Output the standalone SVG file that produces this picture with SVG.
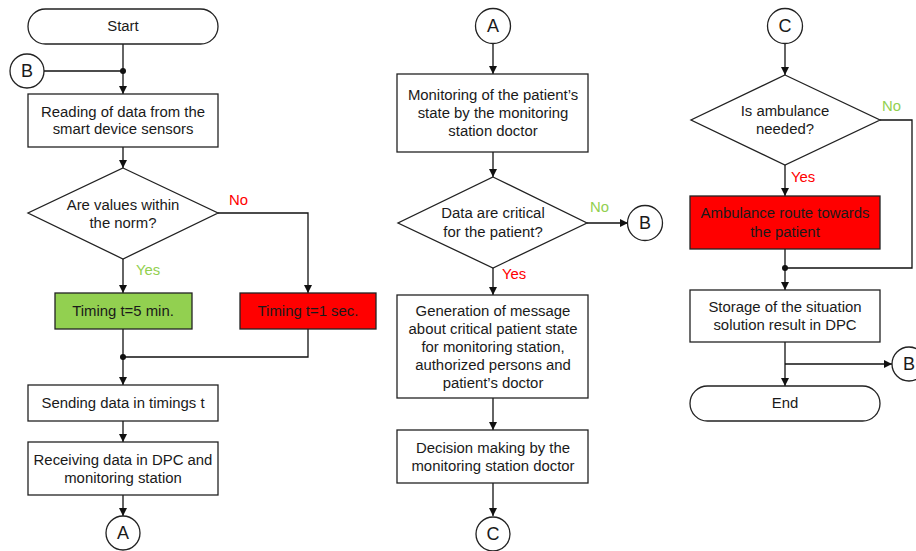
<svg xmlns="http://www.w3.org/2000/svg" width="916" height="551" viewBox="0 0 916 551">
<defs>
<marker id="arr" viewBox="0 0 10 10" refX="10" refY="5" markerWidth="8" markerHeight="8" markerUnits="userSpaceOnUse" orient="auto">
<path d="M0,0 L10,5 L0,10 z" fill="#111"/>
</marker>
<style>
.n{fill:#fff;stroke:#222;stroke-width:1.3}
.g{fill:#92d050;stroke:#222;stroke-width:1.3}
.r{fill:#ff0000;stroke:#222;stroke-width:1.3}
.c{fill:none;stroke:#111;stroke-width:1.3}
.a{marker-end:url(#arr)}
text{font-family:"Liberation Sans",Arial,sans-serif;font-size:14.9px;fill:#1a1a1a;text-anchor:middle}
.lg{fill:#92d050;text-anchor:start}
.lr{fill:#ff0000;text-anchor:start}
.cl{font-size:18px}
</style>
</defs>
<rect width="916" height="551" fill="#fff"/>
<g id="connectors">
<path class="c a" d="M123,44 V94"/>
<path class="c" d="M44,71 H123"/>
<circle cx="123" cy="71" r="3" fill="#111"/>
<path class="c a" d="M123,147 V168"/>
<path class="c a" d="M123,259 V293"/>
<path class="c a" d="M218,213 H308 V293"/>
<path class="c" d="M123,329 V357"/>
<path class="c" d="M308,329 V357 H123"/>
<circle cx="123" cy="357" r="3" fill="#111"/>
<path class="c a" d="M123,357 V385"/>
<path class="c a" d="M123,421 V442"/>
<path class="c a" d="M123,495 V516"/>
<path class="c a" d="M493,44 V74"/>
<path class="c a" d="M493,152 V177"/>
<path class="c a" d="M587,223 H628"/>
<path class="c a" d="M493,268 V295"/>
<path class="c a" d="M493,398 V430"/>
<path class="c a" d="M493,483 V516"/>
<path class="c a" d="M785,44 V75"/>
<path class="c a" d="M785,165 V196"/>
<path class="c" d="M880,120 H912 V268 H785"/>
<path class="c" d="M785,249 V268"/>
<circle cx="785" cy="268" r="3" fill="#111"/>
<path class="c a" d="M785,268 V290"/>
<path class="c a" d="M785,342 V386"/>
<path class="c a" d="M785,364 H892"/>
<text class="lr" x="229" y="205">No</text>
<text class="lg" x="136" y="275">Yes</text>
<text class="lg" x="590" y="212">No</text>
<text class="lr" x="502" y="279">Yes</text>
<text class="lg" x="882" y="111">No</text>
<text class="lr" x="791" y="182">Yes</text>
</g>
<g id="start"><rect class="n" x="28" y="9" width="190" height="35" rx="17.5"/><text x="123" y="31">Start</text></g>
<g id="connB1"><circle class="n" cx="27" cy="71" r="17"/><text class="cl" x="27" y="77">B</text></g>
<g id="read"><rect class="n" x="28" y="94" width="190" height="53"/><text x="123" y="117">Reading of data from the</text><text x="123" y="134">smart device sensors</text></g>
<g id="norm"><polygon class="n" points="123,168 218,213 123,259 28,213"/><text x="123" y="210">Are values within</text><text x="123" y="228">the norm?</text></g>
<g id="t5"><rect class="g" x="55" y="293" width="137" height="36"/><text x="123" y="316">Timing t=5 min.</text></g>
<g id="t1"><rect class="r" x="240" y="293" width="136" height="36"/><text x="308" y="316">Timing t=1 sec.</text></g>
<g id="send"><rect class="n" x="28" y="385" width="190" height="36"/><text x="123" y="408">Sending data in timings t</text></g>
<g id="recv"><rect class="n" x="28" y="442" width="190" height="53"/><text x="123" y="465">Receiving data in DPC and</text><text x="123" y="483">monitoring station</text></g>
<g id="connA1"><circle class="n" cx="123" cy="533" r="17"/><text class="cl" x="123" y="539">A</text></g>
<g id="connA2"><circle class="n" cx="493" cy="26" r="17.5"/><text class="cl" x="493" y="32">A</text></g>
<g id="monitor"><rect class="n" x="397" y="74" width="191" height="78"/><text x="493" y="100">Monitoring of the patient’s</text><text x="493" y="118">state by the monitoring</text><text x="493" y="136">station doctor</text></g>
<g id="critical"><polygon class="n" points="493,177 587,223 493,268 398,223"/><text x="493" y="218">Data are critical</text><text x="493" y="237">for the patient?</text></g>
<g id="connB2"><circle class="n" cx="645" cy="223" r="17.5"/><text class="cl" x="645" y="229">B</text></g>
<g id="gen"><rect class="n" x="397" y="295" width="191" height="103"/><text x="493" y="316">Generation of message</text><text x="493" y="334">about critical patient state</text><text x="493" y="352">for monitoring station,</text><text x="493" y="370">authorized persons and</text><text x="493" y="388">patient’s doctor</text></g>
<g id="decision"><rect class="n" x="397" y="430" width="191" height="53"/><text x="493" y="453">Decision making by the</text><text x="493" y="471">monitoring station doctor</text></g>
<g id="connC1"><circle class="n" cx="493" cy="534" r="17"/><text class="cl" x="493" y="540">C</text></g>
<g id="connC2"><circle class="n" cx="785" cy="26" r="17.5"/><text class="cl" x="785" y="32">C</text></g>
<g id="amb"><polygon class="n" points="785,75 880,120 785,165 691,120"/><text x="785" y="116">Is ambulance</text><text x="785" y="134">needed?</text></g>
<g id="route"><rect class="r" x="690" y="196" width="190" height="53"/><text x="785" y="218">Ambulance route towards</text><text x="785" y="237">the patient</text></g>
<g id="storage"><rect class="n" x="690" y="290" width="190" height="52"/><text x="785" y="312">Storage of the situation</text><text x="785" y="330">solution result in DPC</text></g>
<g id="connB3"><circle class="n" cx="909" cy="364" r="17"/><text class="cl" x="909" y="370">B</text></g>
<g id="end"><rect class="n" x="690" y="386" width="190" height="35" rx="17.5"/><text x="785" y="408">End</text></g>
</svg>
